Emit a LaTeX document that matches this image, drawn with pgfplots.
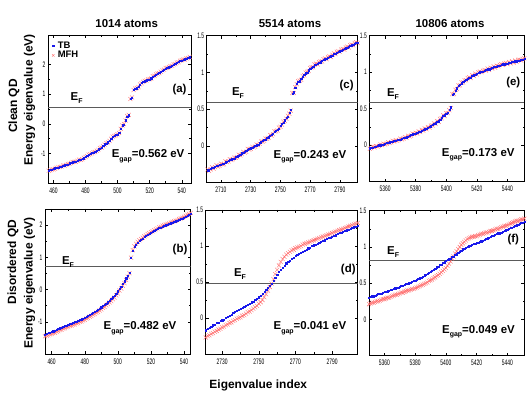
\documentclass[border=0pt]{standalone}
\usepackage{fontspec}
\setmainfont{Liberation Sans}
\newfontfamily\tickfont[FakeStretch=0.62]{Liberation Sans}
\usepackage{pgfplots}
\pgfplotsset{compat=1.18}
\usepackage{pgfplotstable}

\definecolor{tbblue}{RGB}{25,25,235}
\definecolor{mfhred}{RGB}{255,105,105}
\definecolor{efgray}{RGB}{90,90,90}

\newcommand\lbl{\fontsize{11.5}{12}\selectfont\bfseries}
\newcommand\sub[1]{\raisebox{-0.55ex}{\fontsize{7}{7}\selectfont\bfseries #1}}

\pgfplotsset{
  panel/.style={
    scale only axis,
    anchor=north west,
    tick align=inside,
    tick pos=both,
    axis line style={line width=0.6pt},
    every tick/.style={black,line width=0.4pt},
    major tick length=3bp,
    minor tick length=1.6bp,
    minor tick num=1,
    ticklabel style={font=\tickfont\fontsize{8}{8}\selectfont},
    /pgf/number format/assume math mode=true,
    /pgf/number format/1000 sep={},
    xticklabel style={yshift=-1bp},
    yticklabel style={xshift=1bp},
    clip=true,
  },
  tb/.style={only marks, mark=square*, mark size=0.6pt, color=tbblue},
  mfh/.style={only marks, mark=x, mark size=2.9pt, color=mfhred, line width=0.35pt},
  mfhd/.style={only marks, mark=x, mark size=2.9pt, color=mfhred, line width=0.4pt},
  ef/.style={efgray, line width=0.6pt, no marks},
}

\pgfplotstableread{
x tb mfh
457 -1.58 -1.59
458 -1.56 -1.57
459 -1.55 -1.54
460 -1.53 -1.54
461 -1.50 -1.52
462 -1.48 -1.49
463 -1.47 -1.46
464 -1.45 -1.46
465 -1.44 -1.45
466 -1.42 -1.41
467 -1.40 -1.41
468 -1.38 -1.39
469 -1.37 -1.36
470 -1.33 -1.35
471 -1.31 -1.32
472 -1.30 -1.29
473 -1.28 -1.29
474 -1.27 -1.28
475 -1.24 -1.25
476 -1.22 -1.21
477 -1.21 -1.22
478 -1.19 -1.20
479 -1.16 -1.15
480 -1.10 -1.12
481 -1.08 -1.09
482 -1.05 -1.04
483 -1.01 -1.03
484 -0.99 -1.00
485 -0.97 -0.96
486 -0.94 -0.95
487 -0.90 -0.91
488 -0.86 -0.88
489 -0.83 -0.82
490 -0.80 -0.81
491 -0.74 -0.76
492 -0.69 -0.70
493 -0.66 -0.65
494 -0.62 -0.63
495 -0.56 -0.58
496 -0.50 -0.51
497 -0.44 -0.43
498 -0.40 -0.41
499 -0.38 -0.39
500 -0.36 -0.35
501 -0.30 -0.31
502 -0.16 -0.17
503 -0.05 -0.06
504 -0.02 -0.01
505 0.12 0.11
506 0.25 0.26
507 0.29 0.30
508 0.85 0.84
509 0.88 0.89
510 1.15 1.14
511 1.18 1.19
512 1.20 1.21
513 1.25 1.24
514 1.32 1.33
515 1.38 1.37
516 1.41 1.42
517 1.44 1.45
518 1.47 1.46
519 1.49 1.50
520 1.50 1.51
521 1.54 1.53
522 1.60 1.61
523 1.63 1.62
524 1.66 1.67
525 1.69 1.70
526 1.72 1.71
527 1.75 1.76
528 1.80 1.81
529 1.84 1.83
530 1.87 1.88
531 1.90 1.89
532 1.91 1.92
533 1.94 1.95
534 1.97 1.96
535 2.00 2.01
536 2.03 2.02
537 2.06 2.07
538 2.09 2.08
539 2.12 2.13
540 2.14 2.15
541 2.16 2.17
542 2.18 2.17
543 2.20 2.21
544 2.23 2.22
545 2.25 2.26
546 2.27 2.28
}\tabA

\pgfplotstableread{
x tb mfh
2700 -0.34 -0.35
2701 -0.33 -0.32
2702 -0.33 -0.34
2703 -0.31 -0.32
2704 -0.30 -0.29
2705 -0.30 -0.31
2706 -0.28 -0.29
2707 -0.27 -0.26
2708 -0.27 -0.28
2709 -0.26 -0.27
2710 -0.25 -0.24
2711 -0.24 -0.25
2712 -0.24 -0.25
2713 -0.22 -0.21
2714 -0.21 -0.22
2715 -0.20 -0.21
2716 -0.19 -0.18
2717 -0.18 -0.19
2718 -0.17 -0.18
2719 -0.17 -0.16
2720 -0.15 -0.16
2721 -0.14 -0.15
2722 -0.13 -0.12
2723 -0.12 -0.13
2724 -0.10 -0.11
2725 -0.09 -0.08
2726 -0.08 -0.09
2727 -0.07 -0.08
2728 -0.05 -0.04
2729 -0.04 -0.05
2730 -0.03 -0.04
2731 -0.02 -0.01
2732 -0.01 -0.02
2733 0.00 -0.01
2734 0.01 0.02
2735 0.02 0.01
2736 0.04 0.03
2737 0.05 0.06
2738 0.07 0.06
2739 0.08 0.07
2740 0.09 0.10
2741 0.11 0.10
2742 0.12 0.11
2743 0.14 0.15
2744 0.15 0.14
2745 0.17 0.16
2746 0.19 0.20
2747 0.21 0.20
2748 0.22 0.21
2749 0.24 0.25
2750 0.27 0.26
2751 0.30 0.29
2752 0.32 0.33
2753 0.35 0.34
2754 0.38 0.37
2755 0.40 0.41
2756 0.45 0.44
2757 0.49 0.48
2758 0.71 0.72
2759 0.73 0.72
2760 0.79 0.80
2761 0.85 0.84
2762 0.87 0.88
2763 0.88 0.89
2764 0.91 0.90
2765 0.94 0.95
2766 0.97 0.96
2767 0.99 1.00
2768 1.00 1.01
2769 1.03 1.02
2770 1.05 1.06
2771 1.06 1.07
2772 1.08 1.07
2773 1.10 1.11
2774 1.11 1.12
2775 1.12 1.11
2776 1.13 1.14
2777 1.14 1.15
2778 1.16 1.15
2779 1.17 1.18
2780 1.18 1.19
2781 1.19 1.18
2782 1.20 1.21
2783 1.21 1.22
2784 1.22 1.21
2785 1.23 1.24
2786 1.25 1.26
2787 1.26 1.25
2788 1.27 1.28
2789 1.28 1.29
2790 1.29 1.28
2791 1.30 1.31
2792 1.31 1.32
2793 1.32 1.31
2794 1.33 1.34
2795 1.34 1.35
2796 1.35 1.34
2797 1.36 1.37
2798 1.37 1.38
2799 1.38 1.37
2800 1.39 1.40
2801 1.40 1.41
2802 1.41 1.40
}\tabC

\pgfplotstableread{
x tb mfh
5350 -0.04 -0.05
5351 -0.03 -0.04
5352 -0.03 -0.02
5353 -0.02 -0.03
5354 -0.02 -0.01
5355 -0.01 -0.02
5356 0.00 -0.01
5357 0.00 0.01
5358 0.01 0.00
5359 0.01 0.02
5360 0.02 0.01
5361 0.03 0.02
5362 0.03 0.04
5363 0.04 0.03
5364 0.05 0.04
5365 0.05 0.06
5366 0.06 0.05
5367 0.06 0.07
5368 0.07 0.06
5369 0.08 0.07
5370 0.08 0.09
5371 0.09 0.08
5372 0.10 0.09
5373 0.10 0.11
5374 0.11 0.10
5375 0.12 0.13
5376 0.13 0.12
5377 0.14 0.13
5378 0.15 0.16
5379 0.16 0.15
5380 0.16 0.17
5381 0.17 0.16
5382 0.18 0.19
5383 0.19 0.18
5384 0.20 0.21
5385 0.21 0.20
5386 0.22 0.23
5387 0.23 0.22
5388 0.24 0.25
5389 0.25 0.24
5390 0.26 0.27
5391 0.28 0.27
5392 0.29 0.30
5393 0.30 0.29
5394 0.32 0.33
5395 0.33 0.32
5396 0.35 0.36
5397 0.38 0.37
5398 0.40 0.41
5399 0.41 0.40
5400 0.43 0.44
5401 0.45 0.44
5402 0.49 0.48
5403 0.52 0.51
5404 0.69 0.70
5405 0.71 0.70
5406 0.75 0.76
5407 0.78 0.77
5408 0.81 0.82
5409 0.83 0.82
5410 0.85 0.86
5411 0.87 0.86
5412 0.88 0.89
5413 0.90 0.89
5414 0.91 0.92
5415 0.92 0.93
5416 0.93 0.92
5417 0.95 0.96
5418 0.96 0.95
5419 0.97 0.98
5420 0.98 0.97
5421 0.99 1.00
5422 1.00 1.01
5423 1.01 1.00
5424 1.01 1.02
5425 1.02 1.03
5426 1.03 1.02
5427 1.04 1.05
5428 1.04 1.03
5429 1.05 1.06
5430 1.06 1.05
5431 1.07 1.08
5432 1.07 1.06
5433 1.08 1.09
5434 1.09 1.08
5435 1.09 1.10
5436 1.10 1.11
5437 1.11 1.10
5438 1.11 1.12
5439 1.12 1.13
5440 1.12 1.11
5441 1.13 1.14
5442 1.13 1.12
5443 1.14 1.15
5444 1.14 1.13
5445 1.15 1.16
5446 1.15 1.14
5447 1.16 1.17
5448 1.16 1.17
5449 1.17 1.16
5450 1.17 1.18
5451 1.18 1.19
}\tabE

\pgfplotstableread{
x tb mfh
456 -1.39 -1.45
457 -1.37 -1.43
458 -1.35 -1.42
459 -1.33 -1.39
460 -1.31 -1.38
461 -1.29 -1.35
462 -1.27 -1.34
463 -1.25 -1.31
464 -1.22 -1.29
465 -1.20 -1.26
466 -1.18 -1.25
467 -1.15 -1.21
468 -1.13 -1.20
469 -1.11 -1.17
470 -1.09 -1.16
471 -1.07 -1.13
472 -1.05 -1.12
473 -1.03 -1.09
474 -1.01 -1.08
475 -0.99 -1.05
476 -0.97 -1.04
477 -0.94 -1.00
478 -0.92 -0.99
479 -0.90 -0.96
480 -0.87 -0.94
481 -0.84 -0.90
482 -0.81 -0.88
483 -0.78 -0.84
484 -0.75 -0.82
485 -0.72 -0.78
486 -0.69 -0.76
487 -0.66 -0.72
488 -0.62 -0.69
489 -0.59 -0.65
490 -0.55 -0.62
491 -0.51 -0.57
492 -0.47 -0.54
493 -0.43 -0.49
494 -0.39 -0.45
495 -0.34 -0.40
496 -0.29 -0.36
497 -0.24 -0.30
498 -0.18 -0.25
499 -0.12 -0.18
500 -0.05 -0.12
501 0.03 -0.03
502 0.10 0.03
503 0.18 0.12
504 0.26 0.20
505 0.35 0.30
506 0.44 0.40
507 0.52 0.51
508 1.00 0.99
509 1.20 1.22
510 1.32 1.34
511 1.40 1.42
512 1.46 1.48
513 1.51 1.53
514 1.55 1.57
515 1.59 1.61
516 1.63 1.65
517 1.66 1.68
518 1.70 1.72
519 1.73 1.75
520 1.76 1.78
521 1.79 1.81
522 1.82 1.84
523 1.85 1.87
524 1.88 1.90
525 1.91 1.93
526 1.93 1.95
527 1.96 1.98
528 1.98 2.00
529 2.00 2.02
530 2.02 2.04
531 2.04 2.06
532 2.06 2.08
533 2.08 2.10
534 2.10 2.12
535 2.12 2.14
536 2.14 2.16
537 2.17 2.19
538 2.19 2.21
539 2.21 2.23
540 2.24 2.26
541 2.27 2.29
542 2.30 2.32
543 2.33 2.35
544 2.36 2.38
}\tabB

\pgfplotstableread{
x tb mfh
2721 -0.17 -0.27
2722 -0.15 -0.25
2723 -0.13 -0.24
2724 -0.12 -0.22
2725 -0.10 -0.21
2726 -0.09 -0.19
2727 -0.07 -0.18
2728 -0.06 -0.16
2729 -0.04 -0.15
2730 -0.03 -0.13
2731 -0.02 -0.12
2732 0.00 -0.10
2733 0.02 -0.09
2734 0.03 -0.07
2735 0.05 -0.06
2736 0.07 -0.04
2737 0.09 -0.03
2738 0.10 -0.01
2739 0.12 0.00
2740 0.13 0.01
2741 0.14 0.03
2742 0.16 0.04
2743 0.17 0.06
2744 0.18 0.08
2745 0.20 0.09
2746 0.22 0.11
2747 0.23 0.13
2748 0.25 0.15
2749 0.27 0.17
2750 0.29 0.20
2751 0.31 0.22
2752 0.34 0.25
2753 0.36 0.29
2754 0.39 0.33
2755 0.42 0.38
2756 0.45 0.43
2757 0.48 0.48
2758 0.52 0.54
2759 0.56 0.61
2760 0.60 0.67
2761 0.64 0.73
2762 0.67 0.78
2763 0.70 0.82
2764 0.73 0.85
2765 0.76 0.88
2766 0.78 0.90
2767 0.80 0.92
2768 0.82 0.94
2769 0.84 0.95
2770 0.86 0.97
2771 0.88 0.98
2772 0.89 0.99
2773 0.91 1.00
2774 0.92 1.02
2775 0.94 1.03
2776 0.95 1.04
2777 0.97 1.05
2778 0.98 1.06
2779 1.00 1.07
2780 1.01 1.08
2781 1.02 1.09
2782 1.03 1.10
2783 1.05 1.11
2784 1.06 1.12
2785 1.07 1.13
2786 1.08 1.14
2787 1.10 1.15
2788 1.11 1.16
2789 1.12 1.17
2790 1.13 1.18
2791 1.14 1.19
2792 1.15 1.20
2793 1.17 1.21
2794 1.18 1.22
2795 1.19 1.23
2796 1.20 1.24
2797 1.21 1.25
2798 1.22 1.26
2799 1.23 1.27
2800 1.24 1.28
2801 1.25 1.29
2802 1.26 1.30
2803 1.27 1.31
2804 1.28 1.32
}\tabD

\pgfplotstableread{
x tb mfh
5350 0.30 0.21
5351 0.31 0.22
5352 0.32 0.23
5353 0.32 0.23
5354 0.33 0.24
5355 0.34 0.25
5356 0.35 0.25
5357 0.35 0.26
5358 0.36 0.27
5359 0.37 0.28
5360 0.38 0.28
5361 0.38 0.29
5362 0.39 0.30
5363 0.40 0.30
5364 0.41 0.31
5365 0.41 0.32
5366 0.42 0.33
5367 0.43 0.34
5368 0.44 0.34
5369 0.44 0.35
5370 0.45 0.36
5371 0.46 0.37
5372 0.47 0.37
5373 0.48 0.38
5374 0.49 0.39
5375 0.49 0.40
5376 0.50 0.40
5377 0.51 0.41
5378 0.52 0.42
5379 0.53 0.42
5380 0.54 0.43
5381 0.55 0.44
5382 0.56 0.45
5383 0.57 0.46
5384 0.58 0.47
5385 0.59 0.48
5386 0.61 0.49
5387 0.62 0.50
5388 0.63 0.51
5389 0.64 0.53
5390 0.66 0.54
5391 0.67 0.55
5392 0.69 0.57
5393 0.70 0.58
5394 0.72 0.60
5395 0.73 0.61
5396 0.75 0.63
5397 0.76 0.65
5398 0.78 0.67
5399 0.79 0.69
5400 0.81 0.71
5401 0.82 0.74
5402 0.83 0.77
5403 0.84 0.80
5404 0.86 0.84
5405 0.87 0.87
5406 0.89 0.91
5407 0.90 0.94
5408 0.92 0.97
5409 0.94 1.00
5410 0.95 1.03
5411 0.97 1.05
5412 0.98 1.07
5413 0.99 1.09
5414 1.00 1.11
5415 1.01 1.12
5416 1.02 1.13
5417 1.03 1.14
5418 1.04 1.14
5419 1.05 1.15
5420 1.06 1.15
5421 1.06 1.16
5422 1.07 1.17
5423 1.08 1.18
5424 1.09 1.18
5425 1.10 1.19
5426 1.11 1.20
5427 1.12 1.20
5428 1.13 1.21
5429 1.14 1.22
5430 1.15 1.22
5431 1.16 1.23
5432 1.17 1.24
5433 1.18 1.25
5434 1.19 1.25
5435 1.19 1.26
5436 1.20 1.27
5437 1.21 1.28
5438 1.22 1.29
5439 1.23 1.29
5440 1.24 1.30
5441 1.25 1.31
5442 1.26 1.32
5443 1.27 1.33
5444 1.28 1.34
5445 1.29 1.35
5446 1.30 1.36
5447 1.31 1.36
5448 1.32 1.37
5449 1.33 1.38
5450 1.34 1.38
5451 1.35 1.39
}\tabF

\begin{document}
\begin{tikzpicture}
\useasboundingbox (0,0) rectangle (530bp,397bp);

% ---------- (a) ----------
\begin{axis}[panel, at={(48bp,362bp)}, width=143bp, height=148bp,
  xmin=456.6, xmax=545.8, ymin=-2, ymax=3,
  xtick={460,480,...,540}, ytick={-1,0,1,2},
  legend style={at={(rel axis cs:0.025,0.955)}, anchor=north west, draw=none, fill=none,
    font=\fontsize{9.5}{10}\selectfont\bfseries, inner sep=0pt, row sep=1.5pt,
    nodes={inner xsep=1pt, inner ysep=0pt}},
  legend image code/.code={\path[draw=none] (0bp,-1bp) rectangle (5bp,1bp); \draw[#1] plot coordinates {(1.5bp,0bp)};},
  legend cell align=left]
\addlegendimage{tb}\addlegendentry{TB}
\addlegendimage{mfh, mark size=1.8pt, line width=0.45pt}\addlegendentry{MFH}
\addplot[ef, forget plot] coordinates {(456.6,0.57) (545.8,0.57)};
\addplot[mfh, forget plot] table[x=x,y=mfh]{\tabA};
\addplot[tb, forget plot] table[x=x,y=tb]{\tabA};
\node[font=\lbl] at (rel axis cs:0.20,0.575) {E\sub{F}};
\node[font=\lbl] at (rel axis cs:0.92,0.63) {(a)};
\node[font=\lbl] at (rel axis cs:0.70,0.18) {E\sub{gap}=0.562 eV};
\end{axis}

% ---------- (c) ----------
\begin{axis}[panel, at={(206.7bp,361.3bp)}, width=151bp, height=147bp,
  xmin=2700.4, xmax=2802, ymin=-0.5, ymax=1.5,
  xtick={2710,2730,...,2790}, ytick={0,0.5,1,1.5}]
\addplot[ef] coordinates {(2700.4,0.59) (2802,0.59)};
\addplot[mfh] table[x=x,y=mfh]{\tabC};
\addplot[tb] table[x=x,y=tb]{\tabC};
\node[font=\lbl] at (rel axis cs:0.207,0.61) {E\sub{F}};
\node[font=\lbl] at (rel axis cs:0.927,0.658) {(c)};
\node[font=\lbl] at (rel axis cs:0.684,0.177) {E\sub{gap}=0.243 eV};
\end{axis}

% ---------- (e) ----------
\begin{axis}[panel, at={(369.3bp,361.3bp)}, width=155bp, height=146bp,
  xmin=5349.7, xmax=5451, ymin=-0.5, ymax=1.5,
  xtick={5360,5380,...,5440}, ytick={0,0.5,1,1.5}]
\addplot[ef] coordinates {(5349.7,0.59) (5451,0.59)};
\addplot[mfh] table[x=x,y=mfh]{\tabE};
\addplot[tb] table[x=x,y=tb]{\tabE};
\node[font=\lbl] at (rel axis cs:0.153,0.60) {E\sub{F}};
\node[font=\lbl] at (rel axis cs:0.929,0.678) {(e)};
\node[font=\lbl] at (rel axis cs:0.703,0.183) {E\sub{gap}=0.173 eV};
\end{axis}

% ---------- (b) ----------
\begin{axis}[panel, at={(45bp,188bp)}, width=145.7bp, height=145bp,
  xmin=456, xmax=544, ymin=-2, ymax=2.5,
  xtick={460,480,...,540}, ytick={-1,0,1,2}]
\addplot[ef] coordinates {(456,0.71) (544,0.71)};
\addplot[mfh] table[x=x,y=mfh]{\tabB};
\addplot[tb] table[x=x,y=tb]{\tabB};
\node[font=\lbl] at (rel axis cs:0.158,0.634) {E\sub{F}};
\node[font=\lbl] at (rel axis cs:0.927,0.717) {(b)};
\node[font=\lbl] at (rel axis cs:0.652,0.177) {E\sub{gap}=0.482 eV};
\end{axis}

% ---------- (d) ----------
\begin{axis}[panel, at={(205.7bp,187bp)}, width=152bp, height=144bp,
  xmin=2721, xmax=2804, ymin=-0.5, ymax=1.5,
  xtick={2730,2750,2770,2790}, ytick={0,0.5,1,1.5}]
\addplot[ef] coordinates {(2721,0.48) (2804,0.48)};
\addplot[mfhd] table[x=x,y=mfh]{\tabD};
\addplot[tb] table[x=x,y=tb]{\tabD};
\node[font=\lbl] at (rel axis cs:0.226,0.556) {E\sub{F}};
\node[font=\lbl] at (rel axis cs:0.938,0.590) {(d)};
\node[font=\lbl] at (rel axis cs:0.686,0.178) {E\sub{gap}=0.041 eV};
\end{axis}

% ---------- (f) ----------
\begin{axis}[panel, at={(369bp,186.3bp)}, width=155.3bp, height=145bp,
  xmin=5350, xmax=5451, ymin=-0.5, ymax=1.5,
  xtick={5360,5380,...,5440}, ytick={0,0.5,1,1.5}]
\addplot[ef] coordinates {(5350,0.82) (5451,0.82)};
\addplot[mfhd] table[x=x,y=mfh]{\tabF};
\addplot[tb] table[x=x,y=tb]{\tabF};
\node[font=\lbl] at (rel axis cs:0.155,0.717) {E\sub{F}};
\node[font=\lbl] at (rel axis cs:0.929,0.803) {(f)};
\node[font=\lbl] at (rel axis cs:0.705,0.166) {E\sub{gap}=0.049 eV};
\end{axis}

% ---------- titles and labels ----------
\node[font=\lbl] at (126.7bp,373.7bp) {1014 atoms};
\node[font=\lbl] at (290bp,373.7bp) {5514 atoms};
\node[font=\lbl] at (450bp,373bp) {10806 atoms};
\node[font=\fontsize{12}{12}\selectfont\bfseries, rotate=90] at (14bp,291bp) {Clean QD};
\node[font=\fontsize{12}{12}\selectfont\bfseries, rotate=90] at (29.5bp,297bp) {Energy eigenvalue (eV)};
\node[font=\fontsize{12}{12}\selectfont\bfseries, rotate=90] at (13bp,135bp) {Disordered QD};
\node[font=\fontsize{12}{12}\selectfont\bfseries, rotate=90] at (29.5bp,114bp) {Energy eigenvalue (eV)};
\node[font=\fontsize{12}{12}\selectfont\bfseries] at (258.3bp,12bp) {Eigenvalue index};
\end{tikzpicture}
\end{document}
